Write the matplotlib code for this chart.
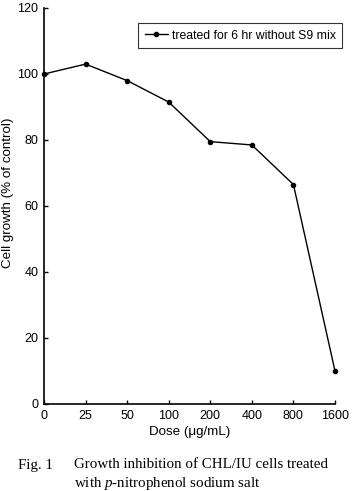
import matplotlib.pyplot as plt

doses = ["0", "25", "50", "100", "200", "400", "800", "1600"]
growth = [100, 103, 98, 91.5, 79.5, 78.5, 66.5, 10]
y_ticks = [0, 20, 40, 60, 80, 100, 120]

plt.rcParams['font.family'] = ['Liberation Sans', 'DejaVu Sans']
plt.rcParams['mathtext.fontset'] = 'custom'
plt.rcParams['mathtext.it'] = 'Liberation Serif:italic'
plt.rcParams['mathtext.rm'] = 'Liberation Serif'

fig = plt.figure(figsize=(3.52, 4.91), dpi=100)
ax = fig.add_axes([44 / 352, 87 / 491, 291 / 352, 396 / 491])

x = range(len(doses))
ax.plot(x, growth, color="black", lw=1.0, marker="o", ms=3, clip_on=False,
        zorder=3, label="treated for 6 hr without S9 mix")

ax.set_xlim(0, len(doses) - 1)
ax.set_ylim(0, 120)
ax.set_xticks(list(x))
ax.set_xticklabels(doses)
ax.set_yticks(y_ticks)
ax.tick_params(direction="in", length=3, width=1, labelsize=9, pad=4)
for s in ["top", "right"]:
    ax.spines[s].set_visible(False)
for s in ["left", "bottom"]:
    ax.spines[s].set_linewidth(1.2)

ax.set_xlabel("Dose (\u03bcg/mL)", fontsize=9.6, labelpad=3)
ax.set_ylabel("Cell growth (% of control)", fontsize=9.6)
ax.yaxis.set_label_coords(14.5 / 352, 1 - 193 / 491, transform=fig.transFigure)

leg = ax.legend(loc="upper right", bbox_to_anchor=(1.025, 0.962), fontsize=8.8,
                frameon=True, fancybox=False, edgecolor="black",
                handlelength=1.9, borderpad=0.55, handletextpad=0.3,
                borderaxespad=0)
leg.get_frame().set_linewidth(0.8)

serif = ["Liberation Serif", "DejaVu Serif"]
fig.text(18 / 352, 1 - 465 / 491, "Fig. 1", family=serif, fontsize=10.8, va="center")
fig.text(74 / 352, 1 - 465 / 491, "Growth inhibition of CHL/IU cells treated",
         family=serif, fontsize=10.8, va="center")
fig.text(74 / 352, 1 - 483 / 491, "with $\\it{p}$-nitrophenol sodium salt",
         family=serif, fontsize=10.8, va="center")

fig.savefig("out.png", dpi=100)
